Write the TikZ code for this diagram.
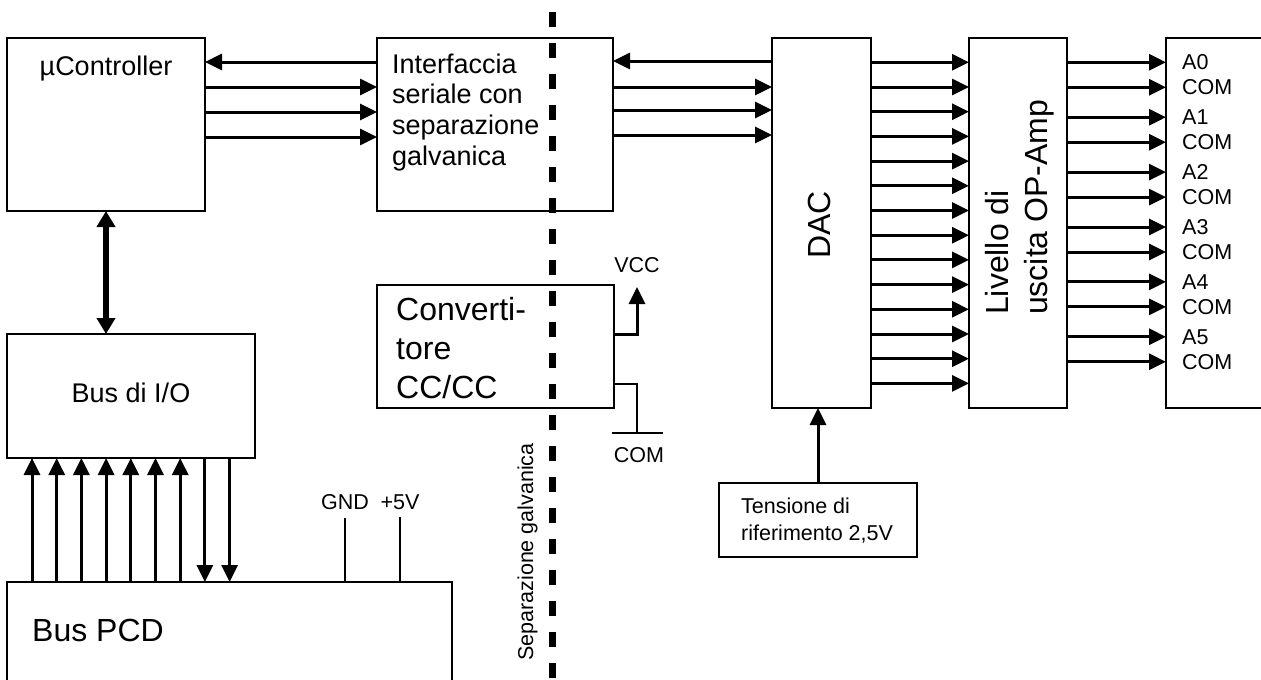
\documentclass[tikz,border=0pt]{standalone}
\usepackage{fontspec}
\setmainfont{Liberation Sans}
\usetikzlibrary{arrows.meta}
\begin{document}
\begin{tikzpicture}[x=1pt,y=-1pt,
 box/.style={draw, line width=2pt, fill=white, anchor=north west, inner sep=0pt, outer sep=0pt},
 arr/.style={line width=3pt, -{Triangle[length=17pt,width=16pt]}},
 big/.style={line width=6pt, {Triangle[length=16pt,width=18pt]}-{Triangle[length=16pt,width=18pt]}},
 wire/.style={line width=1.5pt},
 txtL/.style={font=\fontsize{32}{38}\selectfont, inner sep=0pt},
 txtM/.style={font=\fontsize{27}{31}\selectfont, inner sep=0pt},
 txtS/.style={font=\fontsize{21.5}{26}\selectfont, inner sep=0pt},
]
\useasboundingbox (0,0) rectangle (1261,680);
% boxes
\node[box, minimum width=198pt, minimum height=173pt] (uc) at (7,38) {};
\node[box, minimum width=236pt, minimum height=173pt] (ser) at (377,38) {};
\node[box, minimum width=99pt, minimum height=370pt] (dac) at (772,38) {};
\node[box, minimum width=98pt, minimum height=370pt] (amp) at (969,38) {};
\node[box, minimum width=130pt, minimum height=370pt] (out) at (1166,38) {};
\node[box, minimum width=237pt, minimum height=123pt] (conv) at (377,285) {};
\node[box, minimum width=198pt, minimum height=74pt] (ref) at (719,483) {};
\node[box, minimum width=248pt, minimum height=124pt] (io) at (7,334) {};
\node[box, minimum width=445pt, minimum height=130pt] (pcd) at (7,582) {};
% texts
\node[txtM, anchor=base] (uct) at (106,75) {µController};
\node[txtM, anchor=base west] (ser1) at (392,73) {Interfaccia};
\node[txtM, anchor=base west] (ser2) at (392,103.7) {seriale con};
\node[txtM, anchor=base west] (ser3) at (392,134.3) {separazione};
\node[txtM, anchor=base west] (ser4) at (392,165) {galvanica};
\node[txtL, rotate=90] (dact) at (819.5,225) {DAC};
\node[txtL, rotate=90, anchor=base west] (amp1) at (1008,315) {Livello di};
\node[txtL, rotate=90, anchor=base west] (amp2) at (1047,315) {uscita OP-Amp};
\foreach \k in {0,...,5}{
  \node[txtS, anchor=west] (a\k) at (1182,{62.3+54.9*\k}) {A\k};
  \node[txtS, anchor=west] (c\k) at (1182,{87.3+54.9*\k}) {COM};
}
\node[txtL, anchor=base west] (cv1) at (396,320) {Converti-};
\node[txtL, anchor=base west] (cv2) at (396,359) {tore};
\node[txtL, anchor=base west] (cv3) at (396,398) {CC/CC};
\node[txtS, anchor=base west] (rf1) at (741,513) {Tensione di};
\node[txtS, anchor=base west] (rf2) at (741,540) {riferimento 2,5V};
\node[txtM, anchor=base] (iot) at (131,402) {Bus di I/O};
\node[txtL, anchor=base west] (pcdt) at (32,641) {Bus PCD};
\node[txtS] (gndl) at (345,502) {GND};
\node[txtS] (p5l) at (400,502) {+5V};
\node[txtS] (vccl) at (637,265) {VCC};
\node[txtS] (coml) at (639,455) {COM};
\node[txtS, rotate=90, anchor=base] (sepl) at (533,552) {Separazione galvanica};
% connectors uc <-> ser
\draw[arr] ([yshift=-24pt]ser.north west) -- ([yshift=-24pt]uc.north east);
\foreach \d in {49,74,99}{
  \draw[arr] ([yshift=-\d pt]uc.north east) -- ([yshift=-\d pt]ser.north west);
}
% ser <-> dac
\draw[arr] ([yshift=-23pt]dac.north west) -- ([yshift=-23pt]ser.north east);
\foreach \d in {49,72,97}{
  \draw[arr] ([yshift=-\d pt]ser.north east) -- ([yshift=-\d pt]dac.north west);
}
% dac -> amp
\foreach \i in {0,...,13}{
  \draw[arr] ([yshift={-(24.3+24.7*\i)*1pt}]dac.north east) -- ([yshift={-(24.3+24.7*\i)*1pt}]amp.north west);
}
% amp -> out
\foreach \i in {0,...,5}{
  \draw[arr] ([yshift={-(24.3+54.9*\i)*1pt}]amp.north east) -- ([yshift={-(24.3+54.9*\i)*1pt}]out.north west);
  \draw[arr] ([yshift={-(49.3+54.9*\i)*1pt}]amp.north east) -- ([yshift={-(49.3+54.9*\i)*1pt}]out.north west);
}
% ref -> dac
\draw[arr] (ref.north) -- (ref.north |- dac.south);
% uc <-> io
\draw[big] (uc.south) -- (uc.south |- io.north);
% pcd <-> io
\foreach \i in {0,...,6}{
  \coordinate (u\i) at ([xshift={(25+24.7*\i)*1pt}]pcd.north west);
  \draw[arr] (u\i) -- (u\i |- io.south);
}
\foreach \i in {7,8}{
  \coordinate (u\i) at ([xshift={(25+24.7*\i)*1pt}]io.south west);
  \draw[arr] (u\i) -- (u\i |- pcd.north);
}
% GND / +5V
\coordinate (gndtop) at (345,518);
\coordinate (p5top) at (400,517);
\draw[wire] (gndtop) -- (gndtop |- pcd.north);
\draw[wire] (p5top) -- (p5top |- pcd.north);
% VCC / COM of converter
\coordinate (vcctip) at (637,287);
\draw[arr] ([yshift=-49pt]conv.north east) -| (vcctip);
\coordinate (gndc) at (637,433);
\draw[line width=2pt] ([yshift=-99pt]conv.north east) -| (gndc);
\draw[line width=2pt] ([xshift=-25pt]gndc) -- ([xshift=26pt]gndc);
% galvanic separation
\coordinate (septop) at (552,12);
\coordinate (sepbot) at (552,700);
\draw[line width=7pt, dash pattern=on 15pt off 16pt] (septop) -- (sepbot);
\end{tikzpicture}
\end{document}
